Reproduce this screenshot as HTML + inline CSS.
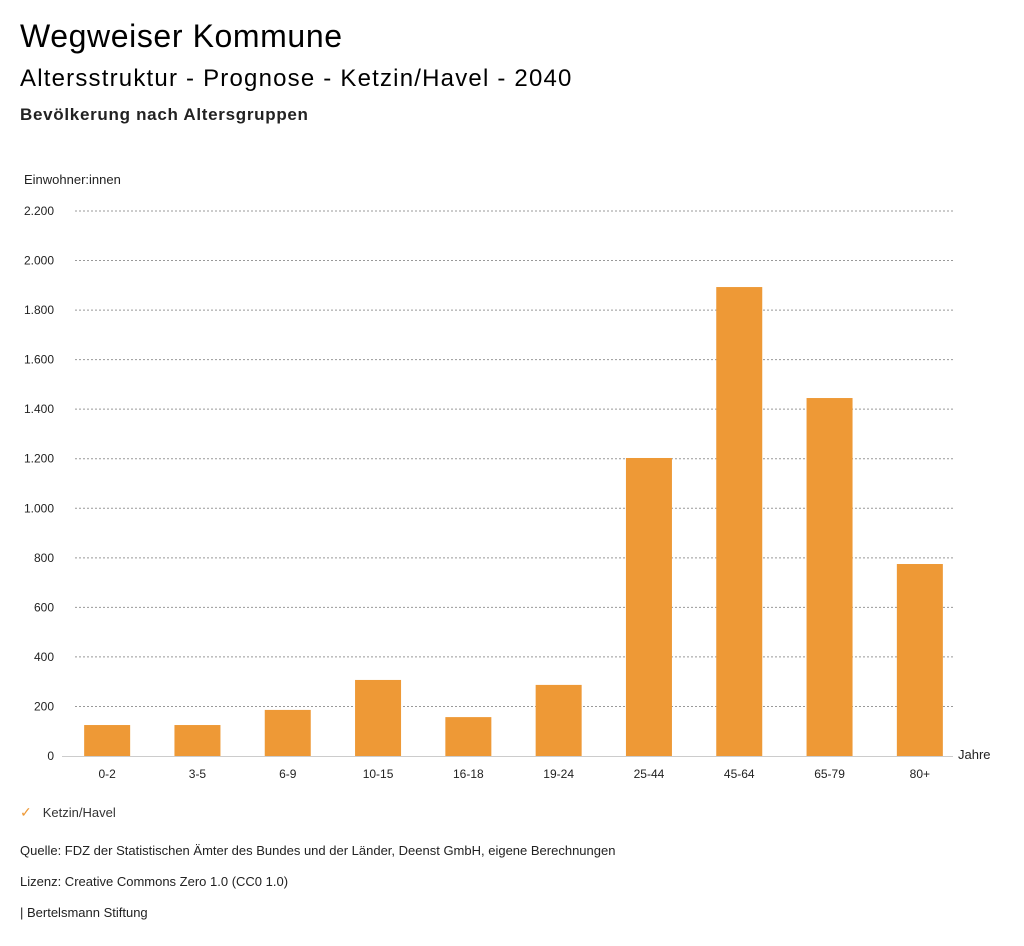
<!DOCTYPE html>
<html><head><meta charset="utf-8"><style>
body{margin:0;background:#fff;font-family:"Liberation Sans",sans-serif;color:#000;}
.wrap{position:relative;width:1024px;height:946px;overflow:hidden;}
.t{position:absolute;white-space:nowrap;}
</style></head><body><div class="wrap">
<div class="t" style="left:20px;top:18px;font-size:32px;letter-spacing:0.6px">Wegweiser Kommune</div>
<div class="t" style="left:20px;top:65px;font-size:24px;letter-spacing:1.2px">Altersstruktur - Prognose - Ketzin/Havel - 2040</div>
<div class="t" style="left:20px;top:105px;font-size:17px;font-weight:bold;letter-spacing:0.7px;color:#222">Bevölkerung nach Altersgruppen</div>
<svg id="c" width="1024" height="800" style="position:absolute;left:0;top:0"></svg>
<div class="t" style="left:20px;top:804px;font-size:13px;color:#333"><span style="color:#ee9936;font-size:14px;margin-right:11px">✓</span>Ketzin/Havel</div>
<div class="t" style="left:20px;top:843px;font-size:13px;color:#222">Quelle: FDZ der Statistischen Ämter des Bundes und der Länder, Deenst GmbH, eigene Berechnungen</div>
<div class="t" style="left:20px;top:874px;font-size:13px;color:#222">Lizenz: Creative Commons Zero 1.0 (CC0 1.0)</div>
<div class="t" style="left:20px;top:905px;font-size:13px;color:#222">| Bertelsmann Stiftung</div>
</div>
<script>
const categories=["0-2","3-5","6-9","10-15","16-18","19-24","25-44","45-64","65-79","80+"];
const values=[125,125,186,307,157,287,1203,1893,1445,775];
const ticks=[0,200,400,600,800,1000,1200,1400,1600,1800,2000,2200];
const tickLabels=["0","200","400","600","800","1.000","1.200","1.400","1.600","1.800","2.000","2.200"];
const svg=document.getElementById('c');const NS='http://www.w3.org/2000/svg';
const y0=756,y1=211,vmax=2200,x0=62,band=90.3;
const y=v=>y0-(v/vmax)*(y0-y1);
const x=i=>x0+band*i+band/2;
function mk(t,a,txt){const e=document.createElementNS(NS,t);for(const k in a)e.setAttribute(k,a[k]);if(txt!=null)e.textContent=txt;svg.appendChild(e);return e;}
let e=mk('text',{x:24,y:184,'font-size':13,fill:'#222'},'Einwohner:innen');


ticks.forEach((t,i)=>{
 if(t>0){const g=mk('line',{x1:75,x2:953,y1:y(t),y2:y(t),stroke:'#999','stroke-dasharray':'2,2','stroke-width':1});
 
 }
 const l=mk('text',{x:54,y:y(t)+4,'font-size':12,fill:'#222','text-anchor':'end'},tickLabels[i]);
 
 
});
categories.forEach((c,i)=>{
 const r=mk('rect',{x:x(i)-23,y:y(values[i]),width:46,height:y0-y(values[i]),fill:'#ee9936'});
 
 
 const l=mk('text',{x:x(i),y:778,'font-size':12,fill:'#222','text-anchor':'middle'},c);
 
 
});
const ax=mk('line',{x1:62,x2:953,y1:y0+0.5,y2:y0+0.5,stroke:'#ccc'});


e=mk('text',{x:958,y:759,'font-size':13,fill:'#222'},'Jahre');


</script></body></html>
